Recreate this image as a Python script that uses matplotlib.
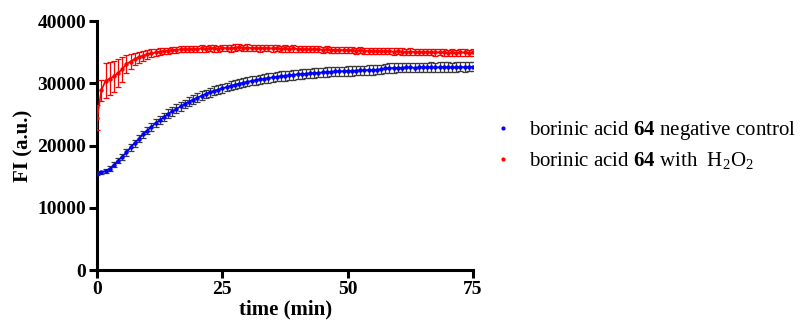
import matplotlib

matplotlib.use("Agg")
import matplotlib.pyplot as plt
import numpy as np
from matplotlib.lines import Line2D

plt.rcParams.update({
    "font.family": "Liberation Serif",
    "mathtext.fontset": "custom",
    "mathtext.rm": "Liberation Serif",
    "mathtext.bf": "Liberation Serif:bold",
    "mathtext.it": "Liberation Serif:italic",
})

# readings every 50 s (0.833 min), 0 .. 75 min
time_min = np.arange(91) * 50 / 60

control = [
    15500, 15700, 15950, 16300, 16900, 17600, 18200, 18900, 19700, 20400,
    21100, 21800, 22400, 23000, 23600, 24100, 24600, 25100, 25500, 25900,
    26300, 26700, 27050, 27400, 27700, 28000, 28300, 28550, 28800, 29000,
    29200, 29400, 29600, 29800, 29950, 30100, 30250, 30400, 30500, 30650,
    30750, 30850, 30950, 31050, 31150, 31200, 31300, 31350, 31450, 31500,
    31550, 31600, 31650, 31700, 31750, 31800, 31850, 31900, 31900, 31950,
    32000, 32000, 32050, 32100, 32100, 32150, 32150, 32200, 32250, 32400,
    32450, 32450, 32500, 32500, 32550, 32550, 32500, 32550, 32550, 32550,
    32600, 32550, 32600, 32600, 32600, 32550, 32600, 32650, 32600, 32650,
    32650,
]
control_err = [
    200, 250, 300, 350, 400, 450, 500, 500, 550, 550,
    600, 600, 600, 650, 650, 650, 650, 700, 700, 700,
    700, 700, 700, 700, 700, 700, 700, 700, 700, 700,
    700, 700, 700, 700, 700, 700, 700, 750, 750, 750,
    750, 750, 750, 750, 750, 750, 750, 750, 750, 750,
    750, 750, 750, 750, 750, 750, 750, 750, 750, 750,
    750, 750, 750, 750, 750, 750, 750, 750, 750, 750,
    750, 750, 750, 750, 750, 750, 750, 750, 750, 750,
    750, 750, 750, 750, 750, 750, 750, 750, 750, 750,
    750,
]

peroxide = [
    24500, 28850, 30400, 30750, 31100, 31650, 32270, 33100, 33500, 33900,
    34200, 34450, 34650, 34800, 34950, 35100, 35200, 35250, 35350, 35400,
    35450, 35500, 35450, 35550, 35500, 35600, 35550, 35650, 35600, 35550,
    35700, 35650, 35600, 35750, 35800, 35700, 35750, 35650, 35700, 35600,
    35700, 35650, 35600, 35650, 35550, 35600, 35550, 35600, 35500, 35550,
    35500, 35450, 35500, 35450, 35400, 35450, 35400, 35350, 35400, 35300,
    35350, 35300, 35250, 35300, 35250, 35200, 35250, 35200, 35150, 35200,
    35150, 35100, 35150, 35100, 35050, 35100, 35050, 35000, 35050, 35000,
    35000, 34950, 35000, 34950, 34900, 34950, 34900, 34950, 34950, 34900,
    34950,
]
peroxide_err = [
    2000, 1700, 2800, 2650, 2450, 2200, 2000, 1500, 1200, 1000,
    900, 800, 700, 650, 600, 550, 550, 500, 500, 500,
    500, 500, 500, 500, 500, 500, 500, 500, 500, 500,
    500, 500, 500, 500, 500, 500, 500, 500, 500, 500,
    500, 500, 500, 500, 500, 500, 500, 500, 500, 500,
    500, 500, 500, 500, 500, 500, 500, 500, 500, 500,
    500, 500, 500, 500, 500, 500, 500, 500, 500, 500,
    500, 500, 500, 500, 500, 500, 500, 500, 500, 500,
    500, 500, 500, 500, 500, 500, 500, 500, 500, 500,
    500,
]

labels = [
    r"borinic acid $\mathbf{64}$ negative control",
    r"borinic acid $\mathbf{64}$ with  H$_2$O$_2$",
]
colors = ["#0000FF", "#FF0000"]
err_colors = ["#3a3a3a", "#FF0000"]

fig = plt.figure(figsize=(8.03, 3.29), dpi=100)
ax = fig.add_axes([0.121, 0.179, 0.468, 0.757])

for y, e, c, ec in [(control, control_err, colors[0], err_colors[0]),
                    (peroxide, peroxide_err, colors[1], err_colors[1])]:
    ax.errorbar(time_min, y, yerr=e, fmt="o-", color=c, ms=2.2, lw=1.2,
                ecolor=ec, elinewidth=0.9, capsize=2.0, capthick=0.9, zorder=3)

ax.set_xlim(0, 75)
ax.set_ylim(0, 40000)
ax.set_xticks([0, 25, 50, 75])
ax.set_yticks([0, 10000, 20000, 30000, 40000])
for side in ("top", "right"):
    ax.spines[side].set_visible(False)
for side in ("left", "bottom"):
    ax.spines[side].set_linewidth(2.2)
ax.tick_params(width=2.2, length=6, labelsize=14, pad=2)
for lab in ax.get_xticklabels() + ax.get_yticklabels():
    lab.set_fontweight("bold")
ax.set_xlabel("time (min)", fontsize=15, fontweight="bold", labelpad=1)
ax.set_ylabel("FI (a.u.)", fontsize=15, fontweight="bold", labelpad=3)

handles = [Line2D([], [], ls="none", marker="o", ms=2, color=c) for c in colors]
fig.legend(handles, labels, loc="upper left", bbox_to_anchor=(0.59, 0.695),
           frameon=False, fontsize=15, handlelength=1.0, handletextpad=0.75,
           labelspacing=0.4)

fig.savefig("out.png", dpi=100)
